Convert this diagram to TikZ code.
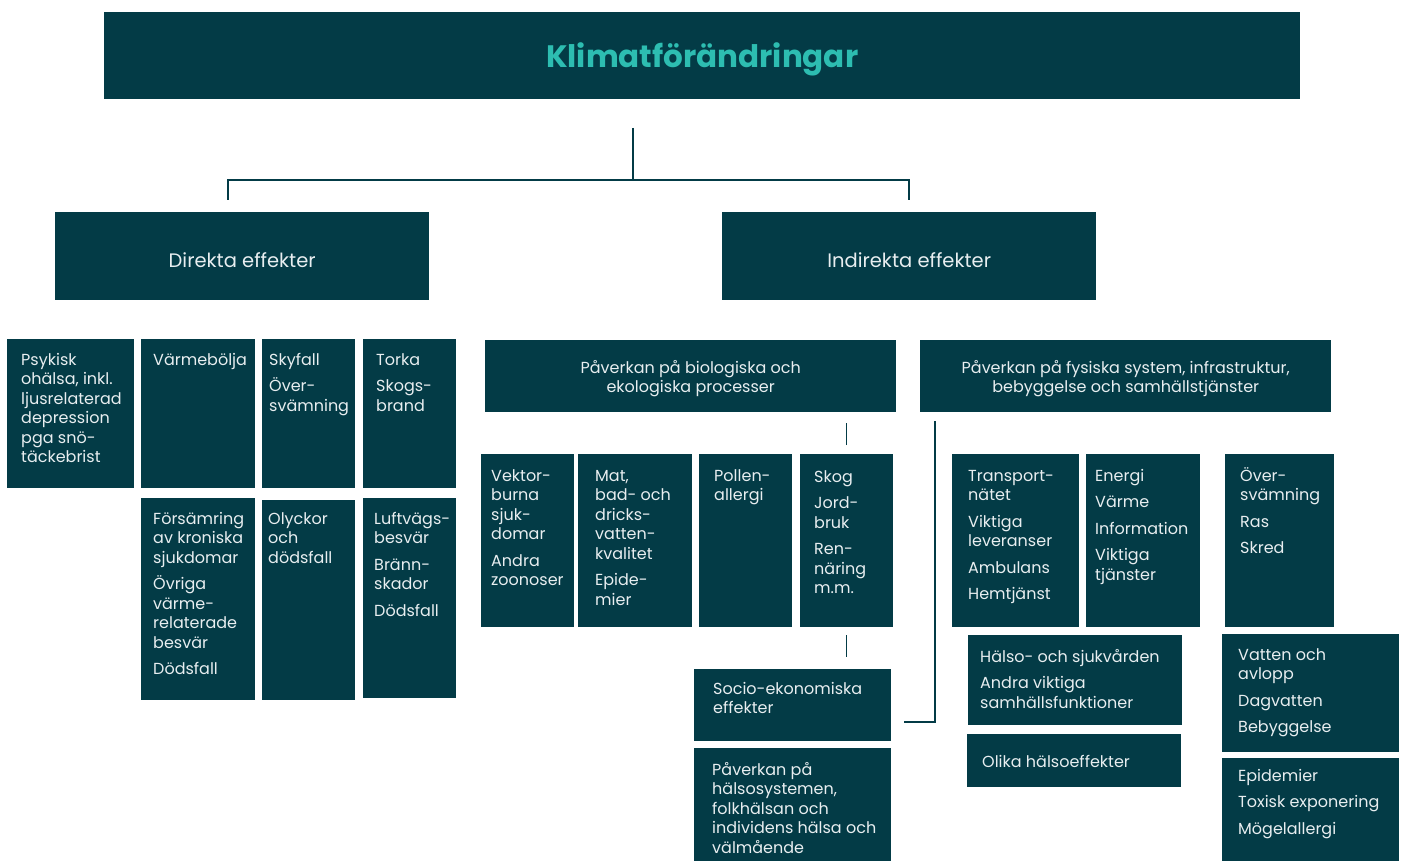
\documentclass[tikz,border=0pt]{standalone}
\usepackage{fontspec}
\setmainfont{Poppins}
\definecolor{dk}{HTML}{033B46}
\definecolor{tl}{HTML}{2DBDB1}
\definecolor{wt}{HTML}{E8EEF0}
\tikzset{
  boxst/.style={fill=dk, draw=none, inner sep=0pt, anchor=north west},
  txtst/.style={text=wt, inner sep=0pt, anchor=north west, font=\fontsize{16}{19.5}\selectfont},
  hdrst/.style={text=wt, inner sep=0pt, align=center, font=\fontsize{16}{19.5}\selectfont},
  conn/.style={draw=dk, line width=1.5pt}
}
\newcommand\bx[5]{\node[boxst, minimum width={(#4-#2)*1pt}, minimum height={(#5-#3)*1pt}] (#1) at (#2,#3) {};}
\newcommand\bt[4]{\node[txtst] (#1t) at ([xshift={#2*1pt},yshift={-(#3-6.8)*1pt}]#1.north west) {\begin{tabular}[t]{@{}l@{}}#4\end{tabular}};}
\newcommand\g{\\[7pt]}
\begin{document}
\begin{tikzpicture}[x=1pt,y=-1pt]
\useasboundingbox[fill=white] (0,0) rectangle (1405,861);
% title
\bx{title}{104}{12}{1300}{99}
\node[text=tl, inner sep=0pt, font=\fontsize{31}{34}\selectfont\bfseries] (titlet) at ([yshift=-4pt]title.center) {Klimatförändringar};
% level 2
\bx{dir}{55}{212}{429}{300}
\node[hdrst, font=\fontsize{19.5}{22}\selectfont] (dirt) at ([yshift=-4pt]dir.center) {Direkta effekter};
\bx{ind}{722}{212}{1096}{300}
\node[hdrst, font=\fontsize{19.5}{22}\selectfont] (indt) at ([yshift=-4pt]ind.center) {Indirekta effekter};
% connectors top
\coordinate (t0) at (633,128);
\coordinate (t1) at (633,180);
\coordinate (dl) at (228,200);
\coordinate (il) at (909,200);
\draw[conn] (t0) -- (t1);
\draw[conn] (dl) |- (t1) -| (il);
% direct effects
\bx{psy}{7}{339}{134}{488}
\bt{psy}{14}{19}{Psykisk\\ohälsa, inkl.\\ljusrelaterad\\depression\\pga snö-\\täckebrist}
\bx{varm}{141}{339}{255}{488}
\bt{varm}{12}{19}{Värmebölja}
\bx{sky}{262}{339}{355}{488}
\bt{sky}{7}{19}{Skyfall\g Över-\\svämning}
\bx{tor}{363}{339}{456}{488}
\bt{tor}{13}{19}{Torka\g Skogs-\\brand}
\bx{fors}{141}{498}{255}{700}
\bt{fors}{12}{19}{Försämring\\av kroniska\\sjukdomar\g Övriga\\värme-\\relaterade\\besvär\g Dödsfall}
\bx{oly}{262}{500}{355}{700}
\bt{oly}{6}{17}{Olyckor\\och\\dödsfall}
\bx{luft}{363}{498}{456}{698}
\bt{luft}{11}{19}{Luftvägs-\\besvär\g Bränn-\\skador\g Dödsfall}
% biological
\bx{bio}{485}{340}{896}{412}
\node[hdrst] (biot) at ([yshift=-2.5pt]bio.center) {Påverkan på biologiska och\\ekologiska processer};
\bx{vek}{481}{454}{574}{627}
\bt{vek}{10}{20}{Vektor-\\burna\\sjuk-\\domar\g Andra\\zoonoser}
\bx{mat}{578}{454}{692}{627}
\bt{mat}{17}{20}{Mat,\\bad- och\\dricks-\\vatten-\\kvalitet\g Epide-\\mier}
\bx{pol}{699}{454}{792}{627}
\bt{pol}{15}{20}{Pollen-\\allergi}
\bx{skog}{800}{454}{893}{627}
\bt{skog}{14}{21}{Skog\g Jord-\\bruk\g Ren-\\näring\\m.m.}
\draw[conn] ([yshift=9pt]skog.north) -- ([yshift=31pt]skog.north);
\draw[conn] ([yshift=-8pt]skog.south) -- ([yshift=-30pt]skog.south);
\bx{soc}{694}{669}{891}{741}
\bt{soc}{19}{18}{Socio-ekonomiska\\effekter}
\bx{hsys}{694}{748}{891}{861}
\bt{hsys}{18}{20}{Påverkan på\\hälsosystemen,\\folkhälsan och\\individens hälsa och\\välmående}
% physical
\bx{phys}{920}{340}{1331}{412}
\node[hdrst] (physt) at ([yshift=-2.5pt]phys.center) {Påverkan på fysiska system, infrastruktur,\\bebyggelse och samhällstjänster};
\coordinate (p0) at (935,421);
\coordinate (p1) at (904,722);
\draw[conn] (p0) |- (p1);
\bx{tra}{952}{454}{1079}{627}
\bt{tra}{16}{20}{Transport-\\nätet\g Viktiga\\leveranser\g Ambulans\g Hemtjänst}
\bx{ene}{1086}{454}{1200}{627}
\bt{ene}{9}{20}{Energi\g Värme\g Information\g Viktiga\\tjänster}
\bx{ove}{1225}{454}{1334}{627}
\bt{ove}{15}{20}{Över-\\svämning\g Ras\g Skred}
\bx{hal}{968}{635}{1182}{725}
\bt{hal}{12}{20}{Hälso- och sjukvården\g Andra viktiga\\samhällsfunktioner}
\bx{oli}{967}{734}{1181}{787}
\node[txtst, anchor=west] (olit) at ([xshift=15pt,yshift=-1pt]oli.west) {Olika hälsoeffekter};
\bx{vat}{1222}{634}{1399}{752}
\bt{vat}{16}{19}{Vatten och\\avlopp\g Dagvatten\g Bebyggelse}
\bx{epi}{1222}{758}{1399}{861}
\bt{epi}{16}{16}{Epidemier\g Toxisk exponering\g Mögelallergi}
\end{tikzpicture}
\end{document}
